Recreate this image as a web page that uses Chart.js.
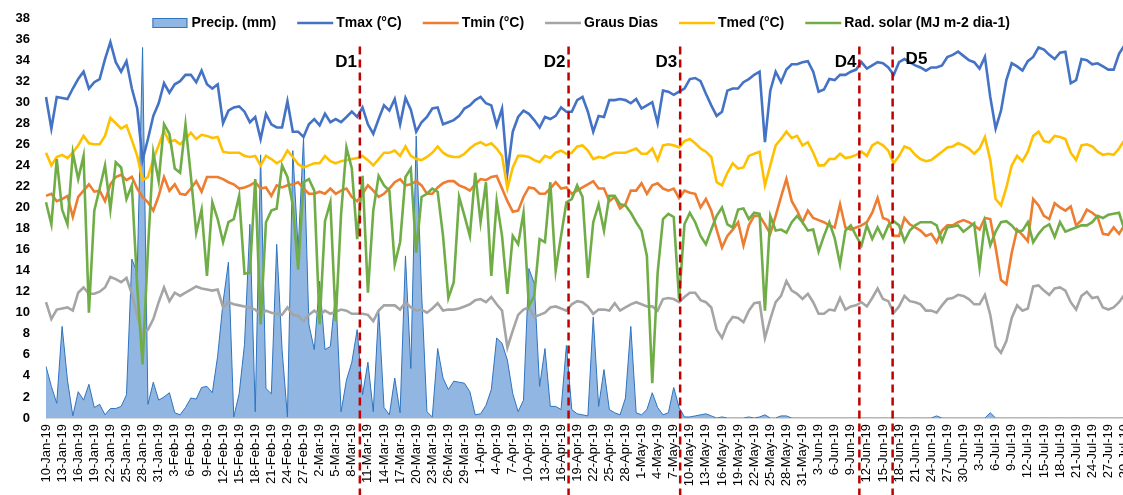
<!DOCTYPE html>
<html>
<head>
<meta charset="utf-8">
<script src="https://cdn.jsdelivr.net/npm/chart.js@4.4.1/dist/chart.umd.min.js"></script>
<style>
    html, body { margin: 0; padding: 0; background: #fff; overflow: hidden; }
    #wrap { width: 1123px; height: 495px; overflow: hidden; }
</style>
</head>
<body>
<div id="wrap"><canvas id="graficoClima" width="1146" height="495"></canvas></div>
<script>
// dados diarios a partir de 10-Jan-19
const inicio = new Date(2019, 0, 10);
const meses = ["Jan", "Feb", "Mar", "Apr", "May", "Jun", "Jul", "Aug", "Sep", "Oct", "Nov", "Dec"];

const precipitacao = [
    4.9, 3.0, 1.4, 8.7, 3.6, 0.2, 2.5, 1.7, 3.2, 1.0,
    1.3, 0.3, 0.9, 0.9, 1.1, 2.2, 15.1, 13.8, 35.2, 1.3,
    3.4, 1.7, 2.0, 2.4, 0.5, 0.3, 1.0, 1.9, 1.8, 2.9,
    3.0, 2.4, 5.9, 11.0, 14.8, 0.1, 2.3, 7.0, 18.4, 0.6,
    25.0, 2.8, 2.3, 16.5, 6.5, 0.1, 25.4, 16.0, 26.6, 8.9,
    6.5, 13.0, 6.5, 6.8, 12.0, 0.6, 3.6, 5.3, 8.4, 2.2,
    5.3, 0.6, 10.3, 1.0, 0.3, 3.8, 0.5, 15.4, 4.7, 26.8,
    12.0, 0.6, 0.1, 6.6, 3.8, 2.7, 3.5, 3.4, 3.3, 2.5,
    0.3, 0.4, 1.2, 2.7, 7.6, 7.1, 5.5, 2.3, 0.6, 1.7,
    14.2, 12.8, 3.0, 6.6, 1.1, 1.1, 0.8, 6.9, 0.8, 0.4,
    0.3, 0.2, 9.6, 1.1, 4.6, 0.8, 0.5, 0.3, 1.9, 8.7,
    0.5, 0.3, 0.8, 2.4, 1.0, 0.3, 0.5, 2.9, 1.0, 0.1,
    0.1, 0.2, 0.3, 0.4, 0.2, 0, 0.1, 0, 0, 0,
    0, 0.1, 0, 0.1, 0.3, 0, 0, 0.2, 0.2, 0,
    0, 0, 0, 0, 0, 0, 0, 0, 0, 0,
    0, 0, 0, 0, 0, 0, 0, 0, 0, 0,
    0, 0, 0, 0, 0, 0, 0.2, 0, 0, 0,
    0, 0, 0, 0, 0, 0, 0.5, 0, 0, 0,
    0, 0, 0, 0, 0, 0, 0, 0, 0, 0,
    0, 0, 0, 0, 0, 0, 0, 0, 0, 0,
    0, 0
];

const tmax = [
    30.5, 27.5, 30.5, 30.4, 30.3, 31.3, 32.2, 32.9, 31.3, 31.9,
    32.2, 34.1, 35.7, 33.8, 32.9, 33.9, 31.3, 29.4, 24.5, 26.5,
    28.7, 29.9, 31.8, 30.9, 31.7, 32.0, 32.6, 32.6, 31.9, 33.0,
    31.7, 31.3, 31.7, 28.0, 29.2, 29.5, 29.6, 29.1, 28.1, 28.6,
    26.5, 28.9, 27.9, 27.6, 27.6, 30.1, 27.2, 27.2, 26.7, 27.9,
    28.4, 27.8, 28.9, 28.1, 28.4, 28.1, 28.6, 29.1, 28.6, 29.5,
    27.9, 27.0, 28.4, 29.7, 29.2, 30.3, 27.9, 30.4, 29.3, 27.2,
    28.1, 28.6, 29.4, 29.5, 27.9, 28.1, 28.3, 28.7, 29.4, 29.7,
    30.2, 30.5, 29.9, 29.7, 27.8, 29.4, 23.3, 27.2, 28.6, 29.2,
    28.9, 28.3, 27.6, 28.6, 28.4, 28.7, 29.5, 29.1, 29.1, 30.2,
    30.5, 29.1, 27.2, 28.7, 28.6, 30.2, 30.2, 30.3, 30.2, 29.9,
    30.3, 29.4, 29.7, 30.0, 28.0, 31.1, 31.0, 30.7, 31.0, 31.3,
    32.2, 32.3, 32.0, 30.8, 29.7, 28.7, 29.1, 31.1, 31.3, 31.3,
    31.9, 32.2, 32.6, 32.9, 26.2, 31.1, 32.9, 31.9, 33.1, 33.6,
    33.6, 33.8, 33.9, 32.9, 31.0, 31.2, 32.2, 32.1, 32.6, 32.6,
    32.9, 33.1, 33.8, 33.2, 33.5, 33.8, 33.7, 33.3, 32.6, 33.8,
    34.1, 33.8, 33.5, 33.3, 33.0, 33.3, 33.3, 33.5, 34.3, 34.5,
    34.8, 34.4, 34.0, 33.8, 33.2, 34.3, 30.5, 27.5, 29.2, 32.1,
    33.7, 33.4, 33.0, 33.9, 34.3, 35.2, 35.0, 34.5, 34.1, 34.7,
    34.8, 31.8, 32.1, 34.1, 34.0, 33.6, 33.7, 33.4, 33.1, 33.1,
    34.6, 35.4
];

const tmin = [
    21.1, 21.3, 20.6, 20.8, 21.1, 19.1, 21.0, 21.6, 22.2, 21.5,
    21.6, 20.6, 22.2, 22.9, 23.1, 22.6, 22.9, 21.8, 21.0, 20.5,
    19.7, 21.1, 22.9, 21.6, 22.2, 21.3, 21.2, 21.8, 22.5, 21.5,
    22.9, 22.9, 22.9, 22.7, 22.4, 22.2, 21.8, 21.9, 22.1, 22.4,
    21.8, 21.9, 21.1, 22.1, 21.9, 22.1, 22.2, 22.4, 21.8, 21.3,
    21.3, 21.5, 21.3, 21.8, 21.3, 21.6, 21.8, 21.0, 20.6, 21.3,
    22.1, 21.6, 21.0, 21.3, 21.8, 22.4, 22.7, 22.1, 22.2, 22.5,
    22.1, 21.3, 21.3, 21.9, 22.3, 22.5, 22.5, 22.1, 21.9, 21.6,
    22.2, 22.7, 22.6, 22.9, 23.0, 21.8, 20.6, 19.6, 19.7, 21.0,
    21.9, 21.8, 21.3, 21.3, 21.8, 22.4, 21.8, 21.9, 21.3, 21.6,
    21.9, 22.2, 22.5, 21.8, 21.8, 20.6, 21.0, 19.9, 20.3, 21.6,
    21.6, 22.3, 21.3, 22.1, 22.3, 21.8, 21.6, 21.8, 20.9, 21.6,
    21.4, 21.3, 20.0, 20.8, 19.7, 17.9, 16.2, 17.3, 17.9, 18.6,
    16.4, 18.3, 19.2, 19.2, 18.4, 17.5, 19.2, 21.0, 22.7, 20.6,
    19.7, 18.6, 19.7, 19.0, 18.8, 18.6, 18.3, 18.1, 20.3, 18.1,
    17.9, 18.1, 18.3, 18.6, 19.5, 20.9, 19.0, 18.8, 17.3, 17.3,
    19.0, 18.4, 18.1, 17.8, 17.3, 17.5, 16.7, 17.8, 18.3, 18.3,
    18.6, 18.8, 18.6, 18.3, 17.9, 19.0, 18.9, 16.2, 13.1, 12.7,
    15.7, 17.9, 17.4, 16.8, 20.8, 20.2, 19.2, 18.9, 20.4, 20.0,
    19.7, 20.1, 18.3, 18.8, 19.8, 19.5, 19.1, 17.5, 17.4, 18.1,
    17.5, 18.3
];

const grausDias = [
    11.0, 9.4, 10.3, 10.4, 10.5, 10.2, 11.9, 12.4, 11.8, 11.8,
    12.0, 12.4, 13.4, 13.2, 12.9, 13.3, 11.8, 9.7, 8.0, 8.4,
    9.4, 11.0, 12.4, 11.1, 11.9, 11.6, 11.9, 12.2, 12.5, 12.3,
    12.2, 12.1, 12.2, 10.5, 11.0, 10.8, 10.7, 10.6, 10.5, 10.3,
    9.8, 10.2, 10.0, 9.9, 9.8, 10.5, 9.8, 9.7, 9.2, 9.8,
    10.2, 9.8, 10.2, 9.9, 10.1, 10.3, 10.2, 9.9, 9.9, 9.9,
    9.8, 9.2, 10.2, 10.7, 10.7, 10.7, 10.3, 11.0, 10.5, 10.2,
    10.3, 10.0, 10.4, 10.9, 10.2, 10.3, 10.3, 10.4, 10.6, 10.8,
    11.2, 11.3, 11.0, 11.5, 10.8, 10.2, 6.7, 8.3, 9.8, 10.3,
    10.5, 9.6, 9.8, 10.0, 10.5, 10.6, 10.4, 10.2, 10.8, 11.1,
    11.0, 10.6, 9.9, 10.3, 10.3, 10.2, 10.9, 10.2, 10.5, 10.8,
    11.0, 10.8, 10.6, 10.6, 10.2, 11.3, 11.4, 11.3, 11.0, 11.5,
    11.9, 11.9, 11.2, 11.0, 10.5, 8.4, 7.6, 8.9, 9.6, 9.5,
    9.1, 10.2, 10.9, 11.0, 7.6, 9.4, 11.0, 11.6, 13.0, 12.1,
    11.8, 11.3, 11.8, 11.0, 9.9, 9.9, 10.3, 10.2, 11.4, 10.3,
    10.6, 10.7, 11.0, 10.6, 11.4, 12.3, 11.3, 11.1, 10.0, 10.6,
    11.6, 11.1, 11.0, 10.8, 10.2, 10.2, 10.0, 10.7, 11.3, 11.4,
    11.7, 11.6, 11.3, 10.8, 10.8, 11.7, 9.8, 6.8, 6.2, 7.3,
    9.5, 10.7, 10.2, 10.4, 12.5, 12.6, 12.1, 11.7, 12.3, 12.4,
    12.1, 11.0, 10.3, 11.6, 12.0, 11.4, 11.5, 10.5, 10.3, 10.5,
    11.0, 11.7
];

const tmed = [
    25.2, 24.0, 24.8, 25.0, 24.7, 25.2, 25.9, 26.8, 26.1, 26.0,
    26.0, 26.8, 28.5, 28.0, 27.5, 27.8, 26.4, 24.9, 22.6, 22.9,
    24.6, 25.9, 27.3, 26.2, 26.4, 26.0, 26.5, 27.1, 26.5, 26.9,
    26.8, 26.6, 26.7, 25.3, 25.2, 25.2, 25.2, 24.9, 24.8, 24.9,
    24.0, 24.9, 24.6, 24.2, 24.5, 25.4, 24.8, 24.1, 23.8, 24.0,
    24.2, 24.2, 24.9, 24.4, 24.2, 24.4, 24.5, 24.6, 24.7, 24.9,
    24.5, 24.0, 24.6, 25.2, 25.2, 25.4, 24.9, 25.8, 24.9, 24.6,
    24.5, 24.8, 25.2, 25.8, 25.2, 24.9, 24.8, 24.8, 25.1, 25.6,
    26.0, 26.2, 25.9, 26.1, 25.6, 24.9, 21.8, 23.8, 24.9, 24.9,
    24.8, 24.5, 24.3, 24.9, 24.7, 25.2, 25.4, 25.1, 25.2, 25.8,
    25.9, 25.4, 24.6, 24.8, 24.7, 25.0, 25.2, 25.2, 25.2, 25.4,
    25.6, 25.1, 25.1, 25.6, 24.5, 25.9, 26.0, 25.9, 25.7, 26.3,
    26.5, 26.1, 25.6, 25.3, 24.8, 22.4, 22.1, 23.3, 24.2, 23.7,
    23.8, 24.9, 25.1, 25.3, 22.1, 24.0, 25.9, 26.5, 27.2, 26.6,
    26.8, 25.9, 26.2, 25.2, 24.0, 24.0, 24.6, 24.6, 25.1, 24.7,
    24.8, 25.0, 25.3, 24.9, 25.9, 26.2, 25.9, 25.4, 24.2, 24.9,
    25.8, 25.6, 25.0, 24.6, 24.4, 24.5, 24.9, 25.3, 25.7, 25.8,
    26.1, 25.9, 25.6, 25.1, 25.6, 26.7, 24.5, 20.8, 20.2, 21.9,
    24.0, 24.9, 24.4, 25.3, 26.8, 27.2, 26.3, 26.2, 26.8, 26.7,
    26.5, 25.2, 24.5, 25.9, 26.0, 25.8, 25.3, 25.0, 25.1, 25.0,
    25.6, 26.4
];

const radSolar = [
    20.5, 18.4, 24.6, 19.8, 18.4, 25.2, 22.7, 24.9, 10.0, 19.7,
    21.8, 24.0, 19.8, 24.3, 23.8, 20.8, 22.1, 12.5, 5.1, 16.0,
    25.2, 22.5, 27.9, 27.0, 23.7, 23.3, 27.9, 23.0, 17.6, 19.8,
    13.5, 20.5, 18.9, 16.7, 18.6, 18.9, 21.1, 13.7, 13.8, 22.7,
    8.9, 18.6, 19.7, 19.9, 24.0, 22.9, 20.2, 14.1, 22.4, 22.7,
    21.6, 8.9, 18.7, 20.5, 9.2, 19.4, 25.7, 23.7, 17.0, 23.0,
    11.9, 19.7, 23.0, 22.1, 21.6, 14.6, 16.7, 22.9, 23.7, 15.7,
    21.0, 21.3, 21.8, 21.5, 17.3, 11.4, 12.9, 21.0, 19.2, 17.3,
    23.3, 18.6, 22.4, 13.5, 20.6, 17.3, 11.8, 17.3, 16.5, 19.5,
    10.6, 11.6, 17.0, 16.7, 22.4, 14.0, 17.3, 20.5, 20.8, 22.1,
    21.0, 13.3, 18.6, 20.3, 17.8, 21.1, 21.1, 20.3, 20.2, 19.5,
    18.6, 17.8, 15.4, 3.3, 13.8, 18.9, 19.4, 19.1, 11.3, 18.4,
    19.5, 18.6, 17.3, 16.5, 17.9, 19.2, 20.0, 18.4, 18.1, 19.8,
    19.9, 18.9, 19.5, 19.4, 10.2, 19.2, 17.8, 17.9, 17.6, 18.6,
    19.2, 18.6, 17.8, 17.9, 15.8, 17.3, 18.6, 17.1, 14.6, 17.8,
    18.3, 17.3, 16.4, 18.3, 17.0, 18.1, 17.1, 18.3, 18.7, 18.3,
    16.8, 17.8, 18.3, 18.6, 18.6, 18.6, 18.3, 16.8, 18.1, 18.2,
    18.3, 17.7, 18.1, 18.5, 14.3, 18.6, 16.4, 17.7, 18.6, 18.7,
    18.3, 17.7, 17.8, 18.6, 16.7, 17.5, 18.1, 18.4, 17.2, 18.6,
    17.7, 17.9, 18.1, 18.3, 18.3, 18.6, 19.2, 19.0, 19.3, 19.4,
    19.5, 17.9
];

// marcos D1..D5 (posicao em dias desde 10-Jan)
const eventos = ["D1", "D2", "D3", "D4", "D5"];
const eventosDia = [58.5, 97.4, 118.2, 151.6, 157.8];
const eventosLado = ["esq", "esq", "esq", "esq", "dir"];

const datas = [];
for (let i = 0; i < tmax.length; i++) {
    const d = new Date(inicio.getFullYear(), inicio.getMonth(), inicio.getDate() + i);
    datas.push(d.getDate() + "-" + meses[d.getMonth()] + "-19");
}

const fonte = "'Liberation Sans', Arial, sans-serif";

// legenda desenhada dentro da area do grafico, como no original
const legendaTopo = {
    id: "legendaTopo",
    afterDraw(chart) {
        const ctx = chart.ctx;
        const itens = chart.data.datasets;
        const larguraSimbolo = 36;
        const espacoTexto = 3;
        const espacoItem = 21;
        ctx.save();
        ctx.font = "bold 14px " + fonte;
        let total = 0;
        itens.forEach(ds => { total += larguraSimbolo + espacoTexto + ctx.measureText(ds.label).width; });
        total += espacoItem * (itens.length - 1);
        let x = (chart.chartArea.left + chart.chartArea.right) / 2 - 4 - total / 2;
        const y = 23;
        itens.forEach(ds => {
            if (ds.fill) {
                ctx.fillStyle = ds.backgroundColor;
                ctx.fillRect(x, y - 5, larguraSimbolo - 1, 10);
                ctx.strokeStyle = ds.borderColor;
                ctx.lineWidth = 1;
                ctx.strokeRect(x + 0.5, y - 4.5, larguraSimbolo - 2, 9);
            } else {
                ctx.strokeStyle = ds.borderColor;
                ctx.lineWidth = ds.borderWidth;
                ctx.beginPath();
                ctx.moveTo(x, y);
                ctx.lineTo(x + larguraSimbolo, y);
                ctx.stroke();
            }
            x += larguraSimbolo + espacoTexto;
            ctx.fillStyle = "#000";
            ctx.textAlign = "left";
            ctx.textBaseline = "middle";
            ctx.fillText(ds.label, x, y);
            x += ctx.measureText(ds.label).width + espacoItem;
        });
        ctx.restore();
    }
};

const linhasEventos = {
    id: "linhasEventos",
    afterDatasetsDraw(chart) {
        const { ctx, scales: { x, y } } = chart;
        const topo = y.getPixelForValue(35.3);
        ctx.save();
        eventos.forEach((nome, i) => {
            const px = x.getPixelForValue(eventosDia[i]);
            ctx.strokeStyle = "#C00000";
            ctx.lineWidth = 2.5;
            ctx.setLineDash([8, 5]);
            ctx.beginPath();
            ctx.moveTo(px, topo);
            ctx.lineTo(px, chart.height);
            ctx.stroke();

            ctx.setLineDash([]);
            ctx.fillStyle = "#000";
            ctx.font = "bold 17px " + fonte;
            ctx.textBaseline = "middle";
            if (eventosLado[i] === "dir") {
                ctx.textAlign = "left";
                ctx.fillText(nome, px + 13, topo + 13);
            } else {
                ctx.textAlign = "right";
                ctx.fillText(nome, px - 3, topo + 16);
            }
        });
        ctx.restore();
    }
};

const linha = (label, data, cor, ordem) => ({
    type: "line",
    label: label,
    data: data,
    borderColor: cor,
    backgroundColor: cor,
    borderWidth: 2.6,
    pointRadius: 0,
    tension: 0,
    fill: false,
    order: ordem
});

const ctx = document.getElementById("graficoClima").getContext("2d");
window.graficoClima = new Chart(ctx, {
    type: "line",
    data: {
        labels: datas,
        datasets: [
            {
                label: "Precip. (mm)",
                data: precipitacao,
                borderColor: "#2F74BF",
                backgroundColor: "#91B6E2",
                borderWidth: 1,
                pointRadius: 0,
                tension: 0,
                fill: "origin",
                order: 10
            },
            linha("Tmax (°C)", tmax, "#4472C4", 5),
            linha("Tmin (°C)", tmin, "#ED7D31", 4),
            linha("Graus Dias", grausDias, "#A5A5A5", 3),
            linha("Tmed (°C)", tmed, "#FFC000", 2),
            linha("Rad. solar (MJ m-2 dia-1)", radSolar, "#70AD47", 1)
        ]
    },
    options: {
        responsive: false,
        animation: false,
        layout: { padding: { top: 18 } },
        plugins: {
            legend: { display: false },
            tooltip: { enabled: false }
        },
        scales: {
            x: {
                type: "category",
                offset: false,
                grid: { display: false, drawTicks: false },
                border: { display: true, color: "#D9D9D9", width: 1 },
                ticks: {
                    autoSkip: false,
                    minRotation: 90,
                    maxRotation: 90,
                    padding: 6,
                    color: "#000",
                    font: { family: fonte, size: 13 },
                    callback: function (valor, indice) {
                        return indice % 3 === 0 ? this.getLabelForValue(valor) : "";
                    }
                },
                afterFit(scale) { scale.height = 77; }
            },
            y: {
                min: 0,
                max: 38,
                grid: { display: false, drawTicks: false },
                border: { display: false },
                ticks: {
                    stepSize: 2,
                    padding: 16,
                    color: "#000",
                    font: { family: fonte, size: 13, weight: "bold" }
                },
                afterFit(scale) {
                    scale.width = 46;
                    scale.paddingTop = 0;
                    scale.paddingBottom = 0;
                }
            }
        }
    },
    plugins: [legendaTopo, linhasEventos]
});
</script>
</body>
</html>
